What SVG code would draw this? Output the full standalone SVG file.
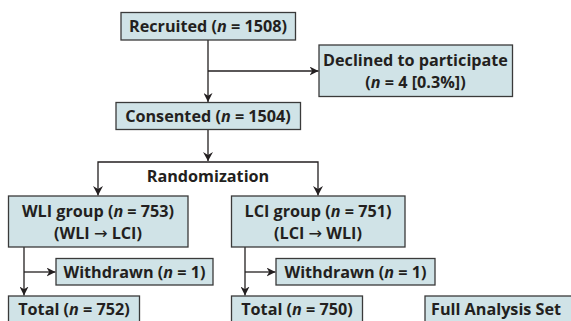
<svg xmlns="http://www.w3.org/2000/svg" width="571" height="321" viewBox="0 0 571 321">
<defs>
<style>
.box{fill:#d0e3e7;stroke:#3a3a3a;stroke-width:1.3}
.t{font-family:"Open Sans","Liberation Sans",sans-serif;font-weight:700;font-size:16.2px;fill:#231f20;text-anchor:middle}
.s{font-family:"Open Sans","Liberation Sans",sans-serif;font-weight:700;font-size:16.2px;fill:#231f20;text-anchor:start}
.ar{font-family:"DejaVu Sans",sans-serif;font-weight:400}
.c{fill:none;stroke:#231f20;stroke-width:1.3}
</style>
<marker id="ah" viewBox="0 0 10 10" refX="10" refY="5" markerWidth="9" markerHeight="9" markerUnits="userSpaceOnUse" orient="auto">
<path d="M0,0 L10,5 L0,10 L3,5 Z" fill="#231f20"/>
</marker>
</defs>
<rect width="571" height="321" fill="#fff"/>
<g id="connectors">
<path class="c" d="M208,40 V102" marker-end="url(#ah)"/>
<path class="c" d="M208,71 H318.5" marker-end="url(#ah)"/>
<path class="c" d="M208,130 V161"/>
<path d="M203,152 L208,161 L213,152 L208,155 Z" fill="#231f20"/>
<path class="c" d="M98,195.5 V162 H318 V195.5" />
<path d="M93,186 L98,195.5 L103,186 L98,189 Z" fill="#231f20"/>
<path d="M313,186 L318,195.5 L323,186 L318,189 Z" fill="#231f20"/>
<path class="c" d="M24,247 V295.5" marker-end="url(#ah)"/>
<path class="c" d="M24,272 H55.5" marker-end="url(#ah)"/>
<path class="c" d="M245,247 V295.5" marker-end="url(#ah)"/>
<path class="c" d="M245,272 H275.5" marker-end="url(#ah)"/>
</g>
<g id="recruited">
<rect class="box" x="121" y="12.5" width="174.5" height="27.5"/>
<text class="t" x="208" y="32">Recruited (<tspan font-style="italic">n</tspan> = 1508)</text>
</g>
<g id="declined">
<rect class="box" x="319" y="45" width="193.5" height="51.5"/>
<text class="t" x="415.5" y="66">Declined to participate</text>
<text class="t" x="415.5" y="88">(<tspan font-style="italic">n</tspan> = 4 [0.3%])</text>
</g>
<g id="consented">
<rect class="box" x="116" y="102.5" width="184.5" height="27"/>
<text class="t" x="208" y="122">Consented (<tspan font-style="italic">n</tspan> = 1504)</text>
</g>
<g id="randomization">
<text class="t" x="208" y="182">Randomization</text>
</g>
<g id="wli">
<rect class="box" x="8.5" y="196" width="179.5" height="51"/>
<text class="t" x="98" y="217">WLI group (<tspan font-style="italic">n</tspan> = 753)</text>
<text class="t" x="98" y="239">(WLI <tspan class="ar">→</tspan> LCI)</text>
</g>
<g id="lci">
<rect class="box" x="231.5" y="196" width="173.5" height="51"/>
<text class="t" x="318" y="217">LCI group (<tspan font-style="italic">n</tspan> = 751)</text>
<text class="t" x="318" y="239">(LCI <tspan class="ar">→</tspan> WLI)</text>
</g>
<g id="withdrawn1">
<rect class="box" x="56" y="258.5" width="157" height="26.5"/>
<text class="t" x="134.5" y="277.5">Withdrawn (<tspan font-style="italic">n</tspan> = 1)</text>
</g>
<g id="withdrawn2">
<rect class="box" x="276" y="258.5" width="159" height="26.5"/>
<text class="t" x="355.5" y="277.5">Withdrawn (<tspan font-style="italic">n</tspan> = 1)</text>
</g>
<g id="total1">
<rect class="box" x="8.5" y="296" width="131" height="40"/>
<text class="t" x="74" y="315">Total (<tspan font-style="italic">n</tspan> = 752)</text>
</g>
<g id="total2">
<rect class="box" x="231.5" y="296" width="131" height="40"/>
<text class="t" x="297" y="315">Total (<tspan font-style="italic">n</tspan> = 750)</text>
</g>
<g id="fas">
<rect class="box" x="425" y="296" width="160" height="40"/>
<text class="s" x="431" y="315">Full Analysis Set</text>
</g>
</svg>
